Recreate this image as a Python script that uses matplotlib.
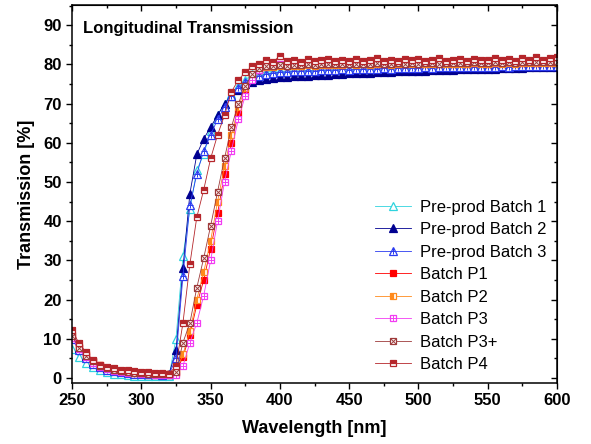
import numpy as np
import matplotlib
matplotlib.use("Agg")
import matplotlib.pyplot as plt
from matplotlib.ticker import MultipleLocator
from matplotlib.legend_handler import HandlerTuple

plt.rcParams['font.family'] = ['Liberation Sans', 'DejaVu Sans']

wavelength = np.arange(250, 605, 5)

pre1 = [7.5, 5.4, 3.8, 2.7, 1.9, 1.4, 1.1, 0.9, 0.7, 0.6, 0.5, 0.5, 0.4, 0.4, 0.5, 10.0,
        31, 43, 53, 57, 63, 67, 70, 72.5, 74.5, 76, 77.5, 77.8, 78, 78.2, 78.3,
        78.2, 78.4, 78.3, 78.5, 78.4, 78.6, 78.5, 78.7, 78.6, 78.8,
        78.7, 78.8, 78.9, 78.8, 79.0, 78.9, 79.0, 79.1, 79.0, 79.1,
        79.2, 79.1, 79.2, 79.3, 79.2, 79.3, 79.4, 79.3, 79.4, 79.5,
        79.4, 79.5, 79.5, 79.6, 79.5, 79.6, 79.7, 79.6, 79.7, 79.8]

pre2 = [10.5, 7.6, 5.6, 4.1, 3.1, 2.5, 2.0, 1.7, 1.5, 1.3, 1.2, 1.1, 1.0, 1.0, 1.0, 7.0,
        28, 47, 57, 61, 64, 67, 70, 72, 73.5, 75, 75.5, 76, 76.2, 76.5, 76.7,
        76.8, 76.9, 77.0, 77.1, 77.2, 77.3, 77.4, 77.5, 77.6, 77.7,
        77.8, 77.8, 77.9, 78.0, 78.0, 78.1, 78.2, 78.2, 78.3, 78.4,
        78.4, 78.5, 78.5, 78.6, 78.6, 78.7, 78.7, 78.8, 78.8, 78.9,
        78.9, 79.0, 79.0, 79.1, 79.1, 79.2, 79.2, 79.2, 79.3, 79.3]

pre3 = [10.0, 7.0, 5.0, 3.6, 2.7, 2.1, 1.7, 1.4, 1.2, 1.1, 1.0, 0.9, 0.9, 0.8, 0.9, 5.0,
        26, 44, 52, 58, 62, 66, 69, 72, 74, 75.5, 76.5, 77, 77.5, 77.8, 78.0,
        78.1, 78.3, 78.2, 78.4, 78.3, 78.5, 78.6, 78.5, 78.7, 78.6,
        78.8, 78.7, 78.9, 78.8, 79.0, 78.9, 79.0, 79.0, 79.1, 79.0,
        79.2, 79.1, 79.2, 79.2, 79.3, 79.2, 79.3, 79.4, 79.3, 79.4,
        79.4, 79.5, 79.4, 79.5, 79.6, 79.5, 79.6, 79.6, 79.7, 79.7]

p1 = [11.0, 8.0, 6.0, 4.4, 3.3, 2.6, 2.1, 1.8, 1.6, 1.4, 1.3, 1.2, 1.1, 1.0, 1.0, 1.3,
      5.4, 11, 18.6, 25, 33, 42, 52, 60, 67.5, 73, 76.5, 78.5, 79.3, 79.5, 79.8,
      79.6, 79.9, 79.7, 80.0, 79.8, 80.0, 79.9, 80.1, 79.9, 80.1,
      80.0, 80.2, 80.0, 80.1, 80.2, 80.0, 80.2, 80.1, 80.3, 80.1,
      80.2, 80.3, 80.1, 80.3, 80.2, 80.4, 80.2, 80.3, 80.4, 80.2,
      80.4, 80.3, 80.5, 80.3, 80.4, 80.5, 80.4, 80.6, 80.4, 80.5]

p2 = [10.8, 7.8, 5.8, 4.3, 3.2, 2.5, 2.0, 1.7, 1.5, 1.3, 1.2, 1.1, 1.0, 1.0, 1.0, 1.5,
      6, 12, 20, 27, 35, 45, 54, 62, 69, 74, 77, 78.5, 79.2, 79.4, 79.6,
      79.5, 79.7, 79.6, 79.8, 79.7, 79.9, 79.8, 79.9, 79.8, 80.0,
      79.9, 80.0, 79.9, 80.1, 80.0, 79.9, 80.1, 80.0, 80.1, 80.0,
      80.1, 80.2, 80.0, 80.2, 80.1, 80.2, 80.1, 80.3, 80.2, 80.1,
      80.3, 80.2, 80.3, 80.2, 80.3, 80.4, 80.3, 80.4, 80.3, 80.4]

p3 = [10.3, 7.3, 5.3, 3.9, 2.9, 2.3, 1.8, 1.5, 1.3, 1.2, 1.0, 0.9, 0.8, 0.8, 0.7, 0.8,
      3, 9, 14, 21, 30, 40, 50, 58, 66, 72, 76, 78.5, 79.5, 79.8, 80.0,
      79.9, 80.1, 80.0, 80.2, 80.1, 80.3, 80.2, 80.3, 80.2, 80.4,
      80.3, 80.4, 80.3, 80.5, 80.4, 80.3, 80.5, 80.4, 80.5, 80.4,
      80.5, 80.6, 80.4, 80.6, 80.5, 80.6, 80.5, 80.7, 80.6, 80.5,
      80.7, 80.6, 80.7, 80.6, 80.7, 80.8, 80.7, 80.8, 80.7, 80.8]

p3plus = [10.6, 7.7, 5.7, 4.2, 3.1, 2.5, 2.0, 1.7, 1.5, 1.3, 1.2, 1.1, 1.0, 1.0, 1.0, 1.5,
          9, 14, 23, 30.6, 38.8, 47.5, 56, 64, 70, 74.5, 77.5, 79, 79.5, 79.7, 79.9,
          79.7, 79.9, 79.8, 80.0, 79.9, 80.1, 80.0, 80.1, 80.0, 80.2,
          80.1, 80.2, 80.1, 80.3, 80.2, 80.1, 80.3, 80.2, 80.3, 80.2,
          80.3, 80.4, 80.2, 80.4, 80.3, 80.4, 80.3, 80.5, 80.4, 80.3,
          80.5, 80.4, 80.5, 80.4, 80.5, 80.6, 80.5, 80.6, 80.5, 80.6]

p4 = [12.2, 8.8, 6.6, 4.5, 3.4, 2.8, 2.4, 2.1, 1.9, 1.7, 1.5, 1.4, 1.3, 1.2, 1.1, 3.0,
      14, 29, 41, 48, 56, 62, 67, 73, 76, 78, 79.5, 80.2, 81, 80.6, 82.2,
      80.8, 81.2, 80.7, 81.3, 80.9, 81.0, 81.4, 80.8, 81.2, 80.9,
      81.3, 80.8, 81.1, 81.5, 80.9, 81.2, 80.8, 81.3, 81.0, 81.4,
      80.9, 81.2, 81.5, 80.9, 81.1, 81.3, 80.8, 81.4, 81.0, 81.2,
      81.6, 81.0, 81.3, 80.9, 81.5, 81.1, 81.8, 81.2, 81.6, 81.9]

labels = ["Pre-prod Batch 1", "Pre-prod Batch 2", "Pre-prod Batch 3", "Batch P1",
          "Batch P2", "Batch P3", "Batch P3+", "Batch P4"]

fig = plt.figure(figsize=(5.91, 4.44), dpi=100)
ax = fig.add_axes([0.122, 0.1374, 0.8205, 0.851])

ms = 5.0
lw = 0.6
handles = []

# Pre-prod Batch 1: open cyan triangle
c = '#2FD3DE'
h, = ax.plot(wavelength, pre1, color=c, lw=lw, marker='^', ms=ms + 0.5,
             mfc='white', mec=c, mew=0.9)
handles.append(h)

# Pre-prod Batch 2: filled navy triangle
c = '#000090'
h, = ax.plot(wavelength, pre2, color=c, lw=lw, marker='^', ms=ms + 0.5,
             mfc=c, mec=c, mew=0.9)
handles.append(h)

# Pre-prod Batch 3: open blue triangle with cross
c = '#2B3BF0'
h1, = ax.plot(wavelength, pre3, color=c, lw=lw, marker='^', ms=ms + 0.5,
              mfc='white', mec=c, mew=0.9)
h2, = ax.plot(wavelength, pre3, color=c, lw=0, marker='+', ms=ms, mec=c, mew=0.7)
handles.append((h1, h2))

# Batch P1: filled red square
c = '#FF0000'
h, = ax.plot(wavelength, p1, color=c, lw=lw, marker='s', ms=ms,
             mfc=c, mec=c, mew=0.9)
handles.append(h)

# Batch P2: half-filled orange square
c = '#FF8A1C'
h, = ax.plot(wavelength, p2, color=c, lw=lw, marker='s', ms=ms,
             mfc=c, mec=c, mew=0.9, fillstyle='left', markerfacecoloralt='white')
handles.append(h)

# Batch P3: magenta square with grid
c = '#F23CF2'
h1, = ax.plot(wavelength, p3, color=c, lw=lw, marker='s', ms=ms,
              mfc='white', mec=c, mew=0.9)
h2, = ax.plot(wavelength, p3, color=c, lw=0, marker='+', ms=ms, mec=c, mew=0.7)
handles.append((h1, h2))

# Batch P3+: brown square with x
c = '#9E3A3A'
h1, = ax.plot(wavelength, p3plus, color=c, lw=lw, marker='s', ms=ms,
              mfc='white', mec=c, mew=0.9)
h2, = ax.plot(wavelength, p3plus, color=c, lw=0, marker='x', ms=ms - 1, mec=c, mew=0.7)
handles.append((h1, h2))

# Batch P4: dark red square with white band
c = '#B5262B'
h, = ax.plot(wavelength, p4, color=c, lw=lw, marker='s', ms=ms,
             mfc=c, mec=c, mew=0.9, fillstyle='top', markerfacecoloralt='white')
handles.append(h)

ax.set_xlim(250, 600)
ax.set_ylim(-1.3, 95.1)
ax.xaxis.set_major_locator(MultipleLocator(50))
ax.xaxis.set_minor_locator(MultipleLocator(25))
ax.yaxis.set_major_locator(MultipleLocator(10))
ax.yaxis.set_minor_locator(MultipleLocator(5))

ax.tick_params(which='both', direction='out', top=False, right=False,
               labelsize=12, width=1.0)
ax.tick_params(which='major', length=4)
ax.tick_params(which='minor', length=2.5)
for lab in ax.get_xticklabels() + ax.get_yticklabels():
    lab.set_fontweight('bold')

# inward ticks on top and right
ax2 = ax.secondary_xaxis('top')
ax2.xaxis.set_major_locator(MultipleLocator(50))
ax2.xaxis.set_minor_locator(MultipleLocator(25))
ax2.tick_params(which='both', direction='in', labeltop=False, width=1.0)
ax2.tick_params(which='major', length=4)
ax2.tick_params(which='minor', length=2.5)
ay2 = ax.secondary_yaxis('right')
ay2.yaxis.set_major_locator(MultipleLocator(10))
ay2.yaxis.set_minor_locator(MultipleLocator(5))
ay2.tick_params(which='both', direction='in', labelright=False, width=1.0)
ay2.tick_params(which='major', length=4)
ay2.tick_params(which='minor', length=2.5)

for sp in list(ax.spines.values()):
    sp.set_linewidth(1.1)

ax.set_xlabel("Wavelength [nm]", fontsize=13, fontweight='bold', labelpad=8)
ax.set_ylabel("Transmission [%]", fontsize=13, fontweight='bold', labelpad=6)

ax.text(0.022, 0.958, "Longitudinal Transmission", transform=ax.transAxes,
        fontsize=12, fontweight='bold', va='top', ha='left')

leg = ax.legend(handles, labels, loc='lower right', bbox_to_anchor=(1.0, 0.0),
                frameon=False, fontsize=12, handlelength=2.2, handletextpad=0.5,
                labelspacing=0.45, borderaxespad=0.25,
                handler_map={tuple: HandlerTuple(ndivide=1)})

fig.savefig("out.png", dpi=100)
